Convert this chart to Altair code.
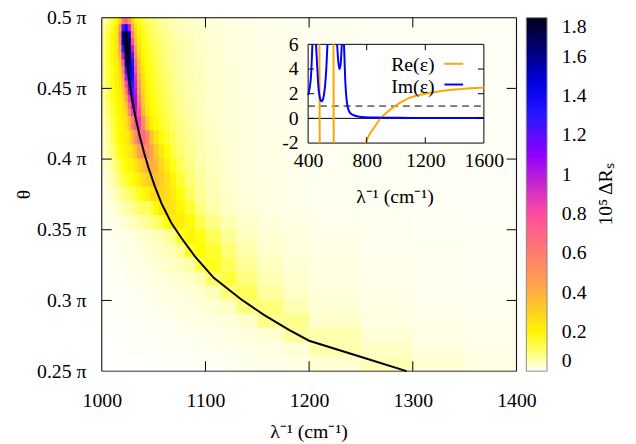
import altair as alt
import pandas as pd

FONT = "Liberation Serif"
W, H = 420, 358

# ---------------- main map: cell edges and 10^5 dR_s values (rows from theta=0.5 pi downwards)
k_edges = [1000, 1004, 1008, 1012, 1016, 1019, 1022, 1025, 1028, 1031, 1034, 1038, 1042, 1046, 1050,
           1055, 1060, 1066, 1072, 1080, 1090, 1100, 1115, 1130, 1150, 1175, 1200, 1250, 1300, 1350, 1400]
theta_edges = [0.5, 0.495, 0.49, 0.485, 0.48, 0.475, 0.47, 0.465, 0.46, 0.455, 0.45, 0.445, 0.44, 0.435,
               0.43, 0.42, 0.41, 0.40, 0.39, 0.38, 0.37, 0.36, 0.35, 0.34, 0.33, 0.32, 0.31, 0.30,
               0.29, 0.28, 0.27, 0.26, 0.25]
dR_rows = [
    [0.05,0.08,0.12,0.17,0.3,0.6,0.7,0.5,0.3,0.2, 0.15,0.12,0.1,0.09,0.08,0.065,0.055,0.048,0.04,0.034, 0.028,0.023,0.019,0.016,0.013,0.011,0.009,0.008,0.007,0.006],
    [0.07,0.11,0.16,0.22,0.5,1.2,1.4,1.0,0.45,0.27, 0.19,0.15,0.12,0.1,0.09,0.075,0.064,0.055,0.046,0.04, 0.033,0.027,0.022,0.018,0.015,0.012,0.01,0.008,0.007,0.006],
    [0.08,0.13,0.18,0.24,0.6,1.6,1.8,1.5,0.6,0.32, 0.21,0.16,0.13,0.11,0.1,0.085,0.072,0.062,0.052,0.044, 0.036,0.03,0.024,0.019,0.015,0.012,0.01,0.008,0.007,0.006],
    [0.08,0.13,0.18,0.24,0.55,1.5,1.8,1.7,0.8,0.38, 0.23,0.17,0.14,0.12,0.105,0.09,0.078,0.066,0.055,0.046, 0.037,0.03,0.024,0.019,0.015,0.012,0.01,0.008,0.007,0.006],
    [0.08,0.13,0.18,0.23,0.45,1.3,1.75,1.75,1.0,0.45, 0.25,0.18,0.15,0.13,0.11,0.094,0.081,0.069,0.057,0.047, 0.038,0.031,0.025,0.02,0.016,0.012,0.01,0.008,0.007,0.006],
    [0.08,0.13,0.18,0.23,0.38,1.0,1.65,1.75,1.2,0.55, 0.29,0.19,0.16,0.135,0.115,0.098,0.084,0.071,0.059,0.048, 0.039,0.031,0.025,0.02,0.016,0.012,0.01,0.008,0.007,0.006],
    [0.08,0.13,0.17,0.22,0.32,0.75,1.5,1.65,1.35,0.7, 0.33,0.2,0.165,0.14,0.12,0.102,0.087,0.073,0.06,0.049, 0.04,0.032,0.025,0.02,0.016,0.013,0.01,0.008,0.007,0.006],
    [0.08,0.12,0.17,0.21,0.28,0.55,1.25,1.55,1.4,0.8, 0.37,0.22,0.17,0.145,0.125,0.106,0.09,0.075,0.062,0.05, 0.04,0.032,0.026,0.02,0.016,0.013,0.01,0.008,0.007,0.006],
    [0.08,0.12,0.16,0.21,0.26,0.42,1.0,1.42,1.4,0.9, 0.42,0.24,0.18,0.15,0.13,0.11,0.093,0.078,0.064,0.052, 0.041,0.033,0.026,0.02,0.016,0.013,0.01,0.008,0.007,0.006],
    [0.07,0.12,0.16,0.2,0.24,0.35,0.8,1.25,1.32,0.95, 0.46,0.26,0.19,0.155,0.135,0.115,0.097,0.081,0.066,0.053, 0.042,0.033,0.026,0.02,0.016,0.013,0.01,0.008,0.007,0.006],
    [0.07,0.11,0.15,0.19,0.23,0.3,0.6,1.05,1.22,1.0, 0.5,0.28,0.2,0.16,0.14,0.12,0.1,0.084,0.068,0.054, 0.043,0.034,0.026,0.02,0.016,0.013,0.01,0.008,0.007,0.006],
    [0.07,0.11,0.15,0.19,0.22,0.27,0.45,0.85,1.12,1.05, 0.58,0.3,0.21,0.17,0.145,0.125,0.104,0.087,0.07,0.055, 0.044,0.034,0.027,0.021,0.016,0.013,0.01,0.008,0.007,0.006],
    [0.06,0.1,0.14,0.18,0.21,0.25,0.35,0.65,0.98,1.05, 0.68,0.33,0.22,0.175,0.15,0.13,0.108,0.09,0.072,0.057, 0.045,0.035,0.027,0.021,0.016,0.013,0.01,0.008,0.007,0.006],
    [0.06,0.09,0.13,0.17,0.2,0.23,0.29,0.5,0.85,0.98, 0.78,0.38,0.24,0.185,0.16,0.135,0.112,0.093,0.074,0.058, 0.046,0.035,0.027,0.021,0.016,0.013,0.01,0.008,0.007,0.006],
    [0.05,0.08,0.12,0.16,0.19,0.21,0.25,0.34,0.58,0.78, 0.85,0.55,0.3,0.21,0.17,0.145,0.12,0.1,0.08,0.062, 0.048,0.037,0.028,0.021,0.016,0.013,0.01,0.008,0.007,0.006],
    [0.04,0.07,0.11,0.15,0.18,0.2,0.22,0.26,0.36,0.52, 0.68,0.7,0.55,0.35,0.24,0.18,0.14,0.11,0.087,0.067, 0.05,0.038,0.029,0.022,0.017,0.013,0.01,0.008,0.007,0.006],
    [0.035,0.06,0.09,0.13,0.16,0.18,0.2,0.22,0.26,0.32, 0.45,0.55,0.55,0.45,0.32,0.23,0.17,0.128,0.097,0.073, 0.054,0.04,0.03,0.022,0.017,0.013,0.01,0.008,0.007,0.006],
    [0.03,0.045,0.07,0.1,0.13,0.15,0.17,0.19,0.21,0.24, 0.29,0.36,0.42,0.42,0.37,0.28,0.21,0.155,0.112,0.082, 0.058,0.042,0.031,0.023,0.017,0.013,0.01,0.008,0.007,0.006],
    [0.02,0.035,0.05,0.075,0.1,0.12,0.135,0.15,0.17,0.19, 0.22,0.26,0.3,0.34,0.35,0.31,0.25,0.19,0.135,0.095, 0.065,0.046,0.033,0.024,0.018,0.014,0.01,0.008,0.007,0.006],
    [0.015,0.025,0.035,0.05,0.065,0.08,0.09,0.1,0.115,0.13, 0.15,0.18,0.21,0.25,0.28,0.29,0.27,0.22,0.165,0.11, 0.072,0.05,0.035,0.025,0.018,0.014,0.01,0.008,0.007,0.006],
    [0.012,0.018,0.025,0.032,0.04,0.048,0.056,0.064,0.073,0.083, 0.097,0.115,0.1,0.13,0.18,0.23,0.25,0.24,0.19,0.14, 0.085,0.056,0.038,0.027,0.019,0.014,0.011,0.009,0.007,0.006],
    [0.01,0.013,0.016,0.02,0.024,0.028,0.032,0.036,0.041,0.047, 0.055,0.065,0.077,0.085,0.1,0.12,0.17,0.22,0.22,0.18, 0.12,0.08,0.05,0.035,0.025,0.018,0.013,0.01,0.008,0.007],
    [0.008,0.009,0.011,0.012,0.014,0.016,0.018,0.02,0.022,0.025, 0.028,0.032,0.037,0.042,0.048,0.055,0.065,0.085,0.15,0.19, 0.16,0.11,0.07,0.045,0.03,0.022,0.016,0.012,0.009,0.008],
    [0.007,0.008,0.009,0.01,0.012,0.013,0.015,0.016,0.018,0.02, 0.022,0.025,0.028,0.032,0.036,0.04,0.045,0.055,0.075,0.14, 0.17,0.14,0.09,0.055,0.035,0.024,0.017,0.012,0.01,0.008],
    [0.006,0.007,0.008,0.009,0.01,0.011,0.012,0.013,0.014,0.016, 0.017,0.019,0.021,0.024,0.027,0.03,0.033,0.038,0.045,0.06, 0.12,0.15,0.11,0.068,0.042,0.028,0.019,0.013,0.01,0.009],
    [0.005,0.006,0.007,0.008,0.008,0.009,0.01,0.011,0.012,0.013, 0.014,0.015,0.017,0.019,0.021,0.023,0.025,0.028,0.032,0.038, 0.05,0.1,0.13,0.085,0.05,0.032,0.021,0.014,0.011,0.009],
    [0.005,0.005,0.006,0.006,0.007,0.007,0.008,0.008,0.009,0.01, 0.011,0.012,0.013,0.014,0.016,0.017,0.019,0.021,0.024,0.028, 0.033,0.045,0.09,0.11,0.065,0.038,0.024,0.015,0.012,0.01],
    [0.004,0.004,0.005,0.005,0.005,0.006,0.006,0.007,0.007,0.008, 0.008,0.009,0.01,0.011,0.012,0.013,0.014,0.016,0.018,0.021, 0.024,0.029,0.04,0.085,0.09,0.05,0.028,0.017,0.013,0.011],
    [0.004,0.004,0.004,0.004,0.005,0.005,0.005,0.006,0.006,0.006, 0.007,0.007,0.008,0.008,0.009,0.01,0.011,0.012,0.014,0.016, 0.018,0.021,0.026,0.035,0.075,0.075,0.035,0.02,0.014,0.012],
    [0.003,0.003,0.003,0.004,0.004,0.004,0.004,0.005,0.005,0.005, 0.005,0.006,0.006,0.007,0.007,0.008,0.008,0.009,0.01,0.012, 0.013,0.015,0.018,0.022,0.03,0.065,0.055,0.028,0.017,0.013],
    [0.003,0.003,0.003,0.003,0.003,0.003,0.003,0.004,0.004,0.004, 0.004,0.005,0.005,0.005,0.006,0.006,0.006,0.007,0.008,0.009, 0.01,0.011,0.013,0.016,0.02,0.028,0.055,0.04,0.022,0.015],
    [0.002,0.002,0.002,0.002,0.002,0.002,0.003,0.003,0.003,0.003, 0.003,0.003,0.004,0.004,0.004,0.004,0.005,0.005,0.006,0.007, 0.007,0.008,0.01,0.012,0.015,0.019,0.03,0.048,0.03,0.018],
]

# black curve (theta in units of pi vs 1/lambda)
curve_k = [1022.5, 1024, 1026, 1029, 1033, 1037, 1041, 1045, 1051, 1058, 1067, 1077, 1090, 1108,
           1134, 1156, 1181, 1200, 1248, 1294]
curve_theta = [0.485, 0.47, 0.458, 0.443, 0.428, 0.415, 0.404, 0.394, 0.381, 0.368, 0.355, 0.344,
               0.331, 0.316, 0.301, 0.290, 0.279, 0.2715, 0.2605, 0.25]

# colour bar
cb_stops = [0, 0.17, 0.3, 0.45, 0.6, 0.8, 0.95, 1.1, 1.3, 1.45, 1.6, 1.8]
cb_colors = ['#ffffff', '#ffff00', '#ffd020', '#ffa050', '#ff7c6c', '#ff4ca0', '#c828d0',
             '#9000ff', '#2818ff', '#0000f0', '#000090', '#000018']
cb_ticks = [0, 0.2, 0.4, 0.6, 0.8, 1.0, 1.2, 1.4, 1.6, 1.8]

x_ticks = [1000, 1100, 1200, 1300, 1400]
y_ticks = [0.25, 0.3, 0.35, 0.4, 0.45, 0.5]

# ---------------- inset: Re(eps) and Im(eps), visible pieces
re_k = [477, 479,  573, 575,  790, 810, 835, 860, 890, 920, 960, 1000, 1080, 1200, 1300, 1440, 1600]
re_v = [6, -2,     6, -2,     -2, -1.5, -1.0, -0.6, -0.05, 0.3, 0.7, 1.05, 1.6, 2.0, 2.2, 2.37, 2.5]
re_seg = [1, 1,    2, 2,      3, 3, 3, 3, 3, 3, 3, 3, 3, 3, 3, 3, 3]

im_k = [400, 412, 420, 426, 429,
        454, 462, 470, 478, 486, 492, 500, 508, 516, 524, 532,
        598, 606, 614, 622, 630,
        645, 652, 659, 666, 674, 690, 706, 740, 790, 900, 1100, 1600]
im_v = [1.9, 2.6, 3.5, 5.0, 6.0,
        6, 4.2, 2.6, 1.8, 1.45, 1.38, 1.5, 1.9, 2.7, 4.0, 6,
        6, 4.6, 4.0, 4.4, 6,
        6, 3.5, 2.0, 1.2, 0.75, 0.4, 0.28, 0.15, 0.09, 0.06, 0.04, 0.03]
im_seg = [1] * 5 + [2] * 11 + [3] * 5 + [4] * 12

inset_x_dom = [400, 1600]
inset_y_dom = [-2, 6]
inset_x_ticks = [400, 800, 1200, 1600]
inset_y_ticks = [-2, 0, 2, 4, 6]

# inset placement inside the main plot (pixels from plot's top-left)
IX0, IX1, IY0, IY1 = 209, 387, 27, 127
CB0, CB1 = W + 10, W + 31   # colour bar left / right edge

# ---------------- tables
assert len(dR_rows) == len(theta_edges) - 1
cells = []
for i, row in enumerate(dR_rows):
    assert len(row) == len(k_edges) - 1
    for j, v in enumerate(row):
        cells.append({"k0": k_edges[j], "k1": k_edges[j + 1],
                      "t0": theta_edges[i + 1], "t1": theta_edges[i], "v": v})
heat_df = pd.DataFrame(cells)
curve_df = pd.DataFrame({"k": curve_k, "t": curve_theta, "i": list(range(len(curve_k)))})
re_df = pd.DataFrame({"k": re_k, "v": re_v, "s": re_seg})
im_df = pd.DataFrame({"k": im_k, "v": im_v, "s": im_seg})
one = pd.DataFrame({"z": [0]})


def box_bars(xd, yd, xt, yt, tx, ty, with_box):
    """border lines and inward tick marks of a box, split into horizontal / vertical pieces"""
    x0, x1 = xd
    y0, y1 = yd
    hs, vs = [], []
    if with_box:
        hs += [(x0, x1, y0, y0), (x0, x1, y1, y1)]
        vs += [(x0, x0, y0, y1), (x1, x1, y0, y1)]
    for v in xt:
        vs += [(v, v, y0, y0 + ty), (v, v, y1 - ty, y1)]
    for v in yt:
        hs += [(x0, x0 + tx, v, v), (x1 - tx, x1, v, v)]
    cols = ["p0", "p1", "q0", "q1"]
    return pd.DataFrame(hs, columns=cols), pd.DataFrame(vs, columns=cols)


def label_axis(orient, offset, values, padding, fmt=None, expr=None):
    kw = dict(orient=orient, offset=offset, values=values, ticks=False, domain=False,
              grid=False, labelPadding=padding, title=None, labelFontSize=20, labelFont=FONT,
              labelColor="black", labelFlush=False, labelOverlap=False, zindex=1)
    if fmt is not None:
        kw["format"] = fmt
    if expr is not None:
        kw["labelExpr"] = expr
    return alt.Axis(**kw)


def xs():
    return alt.Scale(domain=[x_ticks[0], x_ticks[-1]], range=[0, W], nice=False, zero=False)


def ys():
    return alt.Scale(domain=[y_ticks[0], y_ticks[-1]], range=[H, 0], nice=False, zero=False)


def ixs():
    return alt.Scale(domain=inset_x_dom, range=[IX0, IX1], nice=False, zero=False)


def iys():
    return alt.Scale(domain=inset_y_dom, range=[IY1, IY0], nice=False, zero=False)


def bars(df, sx, sy, horizontal):
    if horizontal:
        mk = alt.Chart(df).mark_rect(color="black", yOffset=0.5, y2Offset=-0.5)
    else:
        mk = alt.Chart(df).mark_rect(color="black", xOffset=-0.5, x2Offset=0.5)
    return mk.encode(
        x=alt.X("p0:Q", scale=sx(), axis=None), x2="p1:Q",
        y=alt.Y("q0:Q", scale=sy(), axis=None), y2="q1:Q")


cscale = alt.Scale(domain=cb_stops, range=cb_colors, interpolate="rgb", clamp=True)

heat = alt.Chart(heat_df).mark_rect(x2Offset=0.6, y2Offset=-0.6).encode(
    x=alt.X("k0:Q", scale=xs(), axis=label_axis("bottom", 0, x_ticks, 20, fmt="d")),
    x2="k1:Q",
    y=alt.Y("t0:Q", scale=ys(),
            axis=label_axis("left", 0, y_ticks, 16, expr="format(datum.value, '.2~f') + ' π'")),
    y2="t1:Q",
    color=alt.Color("v:Q", scale=cscale,
                    legend=alt.Legend(type="gradient", title=None, values=cb_ticks, format=".1~f",
                                      orient="none", legendX=CB0, legendY=0,
                                      direction="vertical", gradientLength=H,
                                      gradientThickness=CB1 - CB0, gradientStrokeColor="#888888",
                                      gradientStrokeWidth=1, labelFont=FONT, labelFontSize=20,
                                      labelColor="black", labelOffset=15, padding=0,
                                      labelBaseline="middle", labelOverlap=False)),
)

curve = alt.Chart(curve_df).mark_line(color="black", strokeWidth=2).encode(
    x=alt.X("k:Q", scale=xs(), axis=None),
    y=alt.Y("t:Q", scale=ys(), axis=None),
    order="i:Q")

# tick lengths: 10 px in the main plot, 6 px in the inset (converted to data units)
main_h, main_v = box_bars([x_ticks[0], x_ticks[-1]], [y_ticks[0], y_ticks[-1]],
                          x_ticks[1:-1], y_ticks[1:-1],
                          10 * (x_ticks[-1] - x_ticks[0]) / W, 10 * (y_ticks[-1] - y_ticks[0]) / H, True)
inset_h, inset_v = box_bars(inset_x_dom, inset_y_dom, inset_x_ticks[1:-1], inset_y_ticks[1:-1],
                            6 * (inset_x_dom[1] - inset_x_dom[0]) / (IX1 - IX0),
                            6 * (inset_y_dom[1] - inset_y_dom[0]) / (IY1 - IY0), False)

# ---------------- inset (own scales placed inside the plot)
box_df = pd.DataFrame({"x0": [inset_x_dom[0]], "x1": [inset_x_dom[1]],
                       "y0": [inset_y_dom[0]], "y1": [inset_y_dom[1]]})
ibox = alt.Chart(box_df).mark_rect(fill="white", stroke="black", strokeWidth=1).encode(
    x=alt.X("x0:Q", scale=ixs(), axis=label_axis("bottom", -(H - IY1), inset_x_ticks, 8, fmt="d")),
    x2="x1:Q",
    y=alt.Y("y0:Q", scale=iys(),
            axis=label_axis("left", -IX0, inset_y_ticks, 10, expr="'' + datum.value")),
    y2="y1:Q",
)
zero_line = alt.Chart(one).mark_rule(color="black", strokeWidth=1).encode(
    x=alt.XDatum(inset_x_dom[0], scale=ixs(), axis=None), x2=alt.X2Datum(inset_x_dom[1]),
    y=alt.YDatum(0, scale=iys(), axis=None))
dash_line = alt.Chart(one).mark_rule(color="black", strokeWidth=1, strokeDash=[7, 5]).encode(
    x=alt.XDatum(inset_x_dom[0], scale=ixs(), axis=None), x2=alt.X2Datum(inset_x_dom[1]),
    y=alt.YDatum(1, scale=iys(), axis=None))
re_line = alt.Chart(re_df).mark_line(color="#ffa500", strokeWidth=2, interpolate="monotone").encode(
    x=alt.X("k:Q", scale=ixs(), axis=None), y=alt.Y("v:Q", scale=iys(), axis=None), detail="s:N")
im_line = alt.Chart(im_df).mark_line(color="#0000ff", strokeWidth=2, interpolate="monotone").encode(
    x=alt.X("k:Q", scale=ixs(), axis=None), y=alt.Y("v:Q", scale=iys(), axis=None), detail="s:N")


# ---------------- texts and inset key
def label(text, x, y, angle=0, align="center", baseline="middle", size=20):
    return alt.Chart(one).mark_text(text=text, angle=angle, align=align, baseline=baseline,
                                    font=FONT, fontSize=size, color="black").encode(
        x=alt.value(x), y=alt.value(y))


texts = [
    label("λ⁻¹ (cm⁻¹)", 210, 426, baseline="alphabetic"),
    label("θ", -79, 179, angle=270),
    label("10⁵ ΔRₛ", 511, 179, angle=270),
    label("λ⁻¹ (cm⁻¹)", 297, 188, baseline="alphabetic"),
    label("Re(ε)", 337, 54.5, align="right", baseline="alphabetic"),
    label("Im(ε)", 337, 76.5, align="right", baseline="alphabetic"),
    alt.Chart(one).mark_rule(color="#ffa500", strokeWidth=2).encode(
        x=alt.value(347), x2=alt.value(366), y=alt.value(46.7)),
    alt.Chart(one).mark_rule(color="#0000ff", strokeWidth=2).encode(
        x=alt.value(347), x2=alt.value(366), y=alt.value(67.7)),
]

chart = alt.layer(
    heat, curve,
    bars(main_h, xs, ys, True), bars(main_v, xs, ys, False),
    ibox, zero_line, dash_line, re_line, im_line,
    bars(inset_h, ixs, iys, True), bars(inset_v, ixs, iys, False),
    *texts
).resolve_scale(
    x="independent", y="independent"
).properties(
    width=W, height=H,
    autosize=alt.AutoSizeParams(type="none"),
    padding={"left": 95, "top": 7, "right": 113, "bottom": 71},
    background="white",
).configure_view(stroke="black", strokeWidth=1).configure(font=FONT)

chart.save("out.html", embed_options={"renderer": "svg", "actions": False})
